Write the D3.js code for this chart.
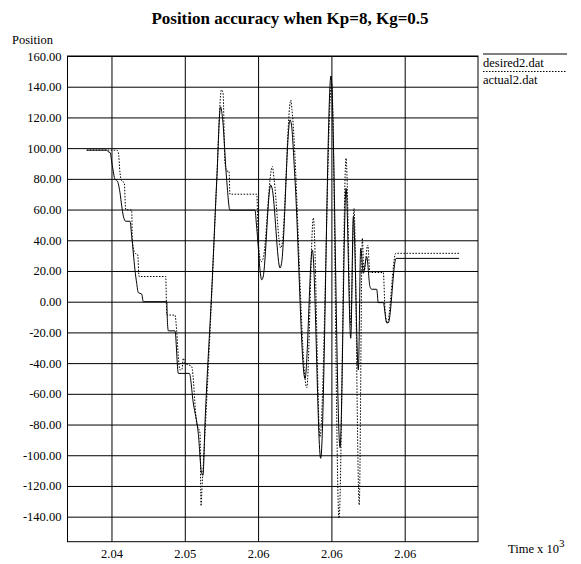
<!DOCTYPE html>
<html>
<head>
<meta charset="utf-8">
<script src="https://cdn.jsdelivr.net/npm/d3@7"></script>
<style>
  body { margin: 0; background: #fff; }
  text { font-family: "Liberation Serif", "Times New Roman", serif; fill: #000; }
</style>
</head>
<body>
<svg></svg>
<script>
// desired2.dat (solid) - time in units, position
const desiredT = [2038.31, 2039.67, 2039.78, 2039.90, 2040.06, 2040.24, 2040.40, 2040.58, 2040.70, 2040.81,
  2040.97, 2041.26, 2041.38, 2041.49, 2041.60, 2041.72, 2041.83, 2042.06, 2042.17, 2043.77,
  2043.81, 2043.88, 2044.33, 2044.56, 2045.31, 2045.58, 2045.92, 2046.15, 2046.24, 2046.38,
  2046.84, 2047.18, 2047.44, 2047.57, 2047.86, 2048.08, 2049.79, 2049.89, 2050.25, 2050.34,
  2050.86, 2050.95, 2051.50, 2051.60, 2052.18, 2052.28, 2052.52, 2053.20, 2053.70, 2054.27,
  2054.97, 2055.59, 2056.00, 2056.32, 2056.50, 2056.84, 2057.00, 2057.18, 2057.41, 2057.63,
  2057.75, 2058.09, 2058.20, 2058.54, 2058.77, 2058.88, 2059.41, 2063.71];
const desiredV = [98.7, 98.7, 97.6, 97.2, 88.4, 79.7, 78.6, 71, 62.2, 55.7,
  52.4, 52.4, 42.6, 31.7, 20.8, 12, 5.9, 5, 0, 0,
  -12, -19, -19, -46.7, -46.7, -66, -85.7, -111.7, -113, -79,
  7.6, 79, 127, 120, 79, 59.6, 59.6, 50, 14.2, 16,
  76, 74, 21.9, 25, 118.4, 115, 79, -50, 33.7, -102,
  147, -95, 73.8, -23.8, 55.3, -44.5, 34.8, 18.5, 29.3, 9.8,
  8.1, 8.1, -0.6, -0.6, -13.7, -13.7, 28.2, 28.2];

// actual2.dat (dotted)
const actualT = [2038.31, 2040.36, 2040.47, 2040.58, 2040.70, 2040.87, 2040.97, 2041.38, 2041.42, 2041.60,
  2041.79, 2041.88, 2043.70, 2043.77, 2044.33, 2044.45, 2044.56, 2044.67, 2044.81, 2044.90,
  2045.02, 2045.47, 2045.81, 2046.04, 2046.11, 2046.18, 2046.24, 2046.84, 2047.18, 2047.50,
  2047.61, 2047.74, 2047.88, 2048.02, 2048.08, 2049.91, 2050.01, 2050.20, 2050.34, 2050.97,
  2051.09, 2051.54, 2051.63, 2052.23, 2052.31, 2053.32, 2053.77, 2054.22, 2055.02, 2055.52,
  2056.00, 2056.32, 2056.54, 2056.90, 2057.11, 2057.22, 2057.48, 2057.63, 2058.54, 2058.66,
  2058.81, 2059.39, 2063.71];
const actualV = [98.7, 98.7, 97.2, 84.1, 78.6, 77.5, 60, 59.6, 40.4, 31.7,
  30.6, 16.4, 16.4, -8.7, -8.7, -19.5, -35.8, -44.5, -44, -36.8,
  -40, -42.3, -79, -85.7, -133, -120, -110, 5, 79, 138,
  136, 90, 85, 85, 70, 70, 40, 26, 28, 88,
  80, 35, 37, 131.3, 125, -56, 54.6, -88, 142, -141,
  93.4, -15, 60.8, -132.4, 41.3, 19.3, 36.9, 19, 19, -5.4,
  -14, 31.5, 31.5];

const xTicks = [2040, 2045, 2050, 2055, 2060];
const xTickLabels = ["2.04", "2.05", "2.06", "2.06", "2.06"];
const yTicks = [-140, -120, -100, -80, -60, -40, -20, 0, 20, 40, 60, 80, 100, 120, 140, 160];
const seriesNames = ["desired2.dat", "actual2.dat"];

const width = 581;
const height = 564;
const svg = d3.select("svg").attr("width", width).attr("height", height);

const plotLeft = 67.5, plotRight = 478, plotTop = 56, plotBottom = 541.7;

const xScale = d3.scaleLinear().domain([2037, 2065]).range([plotLeft, plotRight]);
const yScale = d3.scaleLinear().domain([-156.3, 160]).range([plotBottom, plotTop]);

// grid + labels
const yAxis = d3.axisLeft(yScale)
  .tickValues(yTicks)
  .tickSize(-(plotRight - plotLeft))
  .tickPadding(6)
  .tickFormat((d) => d.toFixed(2));

svg.append("g")
  .attr("transform", `translate(${plotLeft},0)`)
  .call(yAxis)
  .call((g) => g.select(".domain").remove())
  .call((g) => g.selectAll("line").attr("stroke", "#000"))
  .call((g) => g.selectAll("text").attr("font-size", 12.5).attr("font-family", "Liberation Serif"));

const xAxis = d3.axisBottom(xScale)
  .tickValues(xTicks)
  .tickSize(-(plotBottom - plotTop))
  .tickPadding(7)
  .tickFormat((d, i) => xTickLabels[i]);

svg.append("g")
  .attr("transform", `translate(0,${plotBottom})`)
  .call(xAxis)
  .call((g) => g.select(".domain").remove())
  .call((g) => g.selectAll("line").attr("stroke", "#000"))
  .call((g) => g.selectAll("text").attr("font-size", 12.5).attr("font-family", "Liberation Serif"));

svg.append("rect")
  .attr("x", plotLeft).attr("y", plotTop)
  .attr("width", plotRight - plotLeft).attr("height", plotBottom - plotTop)
  .attr("fill", "none").attr("stroke", "#000");

// lines
const line = d3.line()
  .x((d) => xScale(d[0]))
  .y((d) => yScale(d[1]))
  .curve(d3.curveMonotoneX);

const desired = desiredT.map((t, i) => [t, desiredV[i]]);
const actual = actualT.map((t, i) => [t, actualV[i]]);

svg.append("path")
  .datum(desired)
  .attr("d", line)
  .attr("fill", "none")
  .attr("stroke", "#000")
  .attr("stroke-width", 1);

svg.append("path")
  .datum(actual)
  .attr("d", line)
  .attr("fill", "none")
  .attr("stroke", "#000")
  .attr("stroke-width", 1)
  .attr("stroke-dasharray", "1.5,1.5");

// titles
svg.append("text")
  .attr("x", 290).attr("y", 24)
  .attr("text-anchor", "middle")
  .attr("font-size", 17)
  .attr("font-weight", "bold")
  .text("Position accuracy when Kp=8, Kg=0.5");

svg.append("text")
  .attr("x", 12).attr("y", 44)
  .attr("font-size", 12.5)
  .text("Position");

const xl = svg.append("text")
  .attr("x", 508).attr("y", 553)
  .attr("font-size", 12.5)
  .text("Time x 10");
xl.append("tspan").attr("dy", -6).attr("font-size", 11).text("3");

// legend
const legend = svg.append("g").attr("transform", `translate(${plotRight + 5},0)`);
legend.append("line")
  .attr("x1", 0).attr("x2", 84).attr("y1", 54).attr("y2", 54)
  .attr("stroke", "#000");
legend.append("text").attr("x", 0).attr("y", 66.5).attr("font-size", 12.5).text(seriesNames[0]);
legend.append("line")
  .attr("x1", 0).attr("x2", 84).attr("y1", 71.5).attr("y2", 71.5)
  .attr("stroke", "#000").attr("stroke-dasharray", "1.5,1.5");
legend.append("text").attr("x", 0).attr("y", 84).attr("font-size", 12.5).text(seriesNames[1]);
</script>
</body>
</html>
